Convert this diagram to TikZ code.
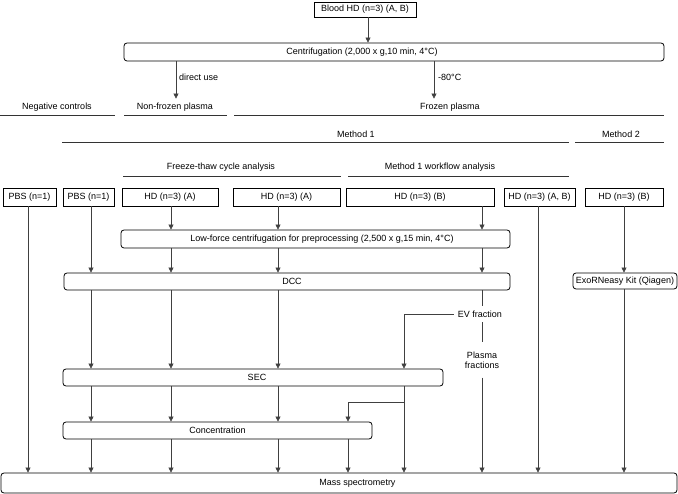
\documentclass[tikz,border=0pt]{standalone}
\usepackage{fontspec}
\setmainfont{Liberation Sans}
\usetikzlibrary{arrows.meta}
\begin{document}
\begin{tikzpicture}[x=1pt,y=-1pt,
  every node/.style={font=\fontsize{9}{10}\selectfont},
  sbox/.style={draw=black, line width=0.8pt, inner sep=0pt, minimum height=18pt},
  pbox/.style={sbox, rounded corners=3pt},
  lab/.style={inner sep=4pt},
  conn/.style={draw=black!75, line width=0.6pt},
  arr/.style={conn, -{Triangle[length=5pt,width=5pt]}},
  rule/.style={draw=black!80, line width=0.8pt}]
\useasboundingbox (0,0) rectangle (678,494);

% top
\node[sbox, minimum width=102pt, minimum height=15pt] (blood) at (365,9.5) {Blood HD (n=3) (A, B)};
\node[pbox, minimum width=540pt] (cen) at (394,52) {Centrifugation (2,000 x g,10 min, 4°C)\hspace*{64pt}};

% section labels
\node[lab, anchor=west] (du) at (175,77) {direct use};
\node[lab, anchor=west] (m80) at (434,77) {-80°C};
\node[lab] (neg) at (57,107) {Negative controls};
\node[lab] (nonfrozen) at (175,107) {Non-frozen plasma};
\node[lab] (frozen) at (450,107) {Frozen plasma};
\node[lab] (m1) at (356,134) {Method 1};
\node[lab] (m2) at (621,134) {Method 2};
\node[lab] (fta) at (221,167) {Freeze-thaw cycle analysis};
\node[lab] (wfa) at (440,167) {Method 1 workflow analysis};

\draw[rule] (0,115) -- (115,115);
\draw[rule] (124,115) -- (227,115);
\draw[rule] (234,115) -- (664,115);
\draw[rule] (62,142) -- (569,142);
\draw[rule] (575,142) -- (664,142);
\draw[rule] (123,176) -- (341,176);
\draw[rule] (348,176) -- (569,176);

% sample boxes
\node[sbox, minimum width=53pt] (pbs1) at (29.5,197) {PBS (n=1)};
\node[sbox, minimum width=51pt] (pbs2) at (88.5,197) {PBS (n=1)};
\node[sbox, minimum width=96pt] (hdA1) at (170,197) {HD (n=3) (A)};
\node[sbox, minimum width=107pt] (hdA2) at (286.5,197) {HD (n=3) (A)};
\node[sbox, minimum width=148pt] (hdB) at (420,197) {HD (n=3) (B)};
\node[sbox, minimum width=71pt] (hdAB) at (539.5,197) {HD (n=3) (A, B)};
\node[sbox, minimum width=78pt] (hdB2) at (624,197) {HD (n=3) (B)};

% process boxes
\node[pbox, minimum width=389pt] (lf) at (315.5,239) {\hspace*{13pt}Low-force centrifugation for preprocessing (2,500 x g,15 min, 4°C)};
\node[pbox, minimum width=446pt, minimum height=17pt] (dcc) at (287,281.5) {\hspace*{10pt}DCC};
\node[pbox, minimum width=104pt, minimum height=16pt] (exo) at (625,281) {ExoRNeasy Kit (Qiagen)};
\node[pbox, minimum width=380pt, minimum height=17pt] (sec) at (253,377.5) {\hspace*{8pt}SEC};
\node[pbox, minimum width=309pt, minimum height=17pt] (conc) at (217.5,430.5) {Concentration};
\node[pbox, minimum width=676pt, minimum height=20pt] (ms) at (339,483) {\hspace*{37pt}Mass spectrometry};

% fraction labels
\node[inner xsep=4pt, inner ysep=4.5pt] (ev) at (480,314) {EV fraction};
\node[inner xsep=3pt, inner ysep=9pt, align=center] (pf) at (482,360) {Plasma\\fractions};
\coordinate (br) at (404,402);

% connectors: top
\draw[arr] (368,0 |- blood.south) -- (368,0 |- cen.north);
\draw[arr] (176,0 |- cen.south) -- (176,0 |- nonfrozen.north);
\draw[arr] (434,0 |- cen.south) -- (434,0 |- frozen.north);

% samples
\draw[arr] (28,0 |- pbs1.south) -- (28,0 |- ms.north);
\draw[arr] (91,0 |- pbs2.south) -- (91,0 |- dcc.north);
\draw[arr] (171,0 |- hdA1.south) -- (171,0 |- lf.north);
\draw[arr] (278,0 |- hdA2.south) -- (278,0 |- lf.north);
\draw[arr] (482,0 |- hdB.south) -- (482,0 |- lf.north);
\draw[arr] (538,0 |- hdAB.south) -- (538,0 |- ms.north);
\draw[arr] (624,0 |- hdB2.south) -- (624,0 |- exo.north);
\draw[arr] (624,0 |- exo.south) -- (624,0 |- ms.north);

% low-force -> DCC
\draw[arr] (171,0 |- lf.south) -- (171,0 |- dcc.north);
\draw[arr] (278,0 |- lf.south) -- (278,0 |- dcc.north);
\draw[arr] (482,0 |- lf.south) -- (482,0 |- dcc.north);

% DCC -> SEC
\draw[arr] (91,0 |- dcc.south) -- (91,0 |- sec.north);
\draw[arr] (171,0 |- dcc.south) -- (171,0 |- sec.north);
\draw[arr] (278,0 |- dcc.south) -- (278,0 |- sec.north);
\draw[conn] (482,0 |- dcc.south) -- (482,0 |- ev.north);
\draw[conn] (482,0 |- ev.south) -- (482,0 |- pf.north);
\draw[arr] (482,0 |- pf.south) -- (482,0 |- ms.north);
\draw[arr] (ev.west) -| (404,0 |- sec.north);

% SEC -> Concentration
\draw[arr] (91,0 |- sec.south) -- (91,0 |- conc.north);
\draw[arr] (171,0 |- sec.south) -- (171,0 |- conc.north);
\draw[arr] (278,0 |- sec.south) -- (278,0 |- conc.north);
\draw[arr] (404,0 |- sec.south) -- (404,0 |- ms.north);
\draw[arr] (br) -| (348,0 |- conc.north);

% Concentration -> MS
\draw[arr] (91,0 |- conc.south) -- (91,0 |- ms.north);
\draw[arr] (171,0 |- conc.south) -- (171,0 |- ms.north);
\draw[arr] (278,0 |- conc.south) -- (278,0 |- ms.north);
\draw[arr] (348,0 |- conc.south) -- (348,0 |- ms.north);
\end{tikzpicture}
\end{document}
